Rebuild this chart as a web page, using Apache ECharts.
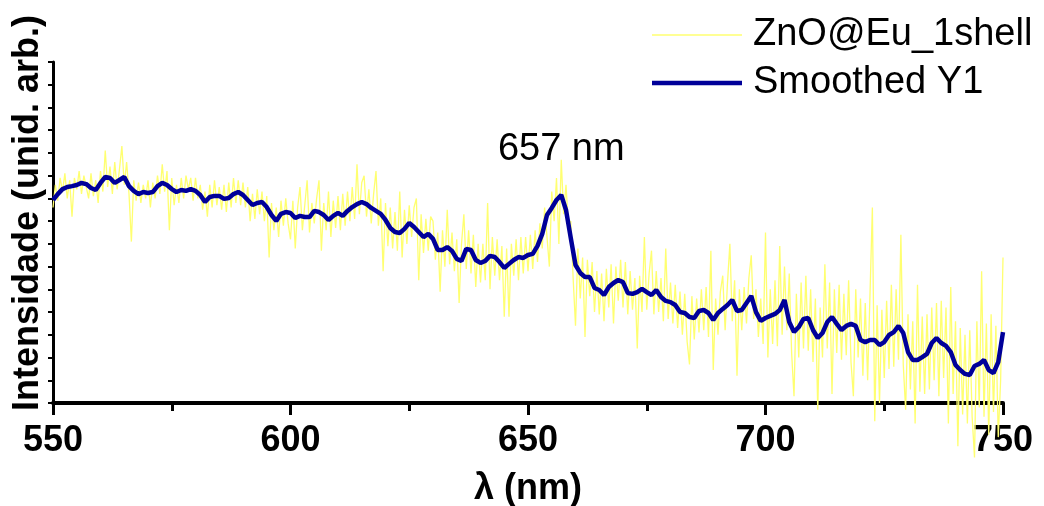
<!DOCTYPE html>
<html>
<head>
<meta charset="utf-8">
<script src="https://cdn.jsdelivr.net/npm/echarts@6/dist/echarts.min.js"></script>
<style>
  html, body { margin: 0; padding: 0; background: #ffffff; }
  #chart { width: 1044px; height: 506px; }
</style>
</head>
<body>
<div id="chart"></div>
<script>
// Emission spectrum of ZnO@Eu (one shell): raw signal and its smoothed trace.
const START_NM = 550;
const END_NM = 750;
const RAW_STEP = 0.5;      // nm between raw samples
const SMOOTH_STEP = 1;     // nm between smoothed samples
const xTickStep = 50;

const seriesNames = ['ZnO@Eu_1shell', 'Smoothed Y1'];
const seriesColors = ['#ffff70', '#000099'];
const peakNm = 657;
const peakLabel = '657 nm';

// Raw intensity (arb. units), 550 → 750 nm every 0.5 nm
const rawIntensity = [
  8.6, 9.6, 8.9, 9.9, 9.3, 10.1, 9.0, 9.8, 8.2, 9.9, 9.4, 10.2, 9.2, 10.0, 9.5, 9.0, 10.1, 9.1, 9.8, 8.8,
  10.2, 9.3, 11.1, 9.5, 10.4, 9.2, 10.6, 9.4, 10.3, 11.3, 9.6, 10.6, 9.2, 7.1, 9.8, 8.9, 9.7, 8.8, 9.6, 9.0,
  9.8, 8.6, 9.7, 9.0, 10.0, 9.2, 10.5, 9.3, 10.2, 7.6, 9.9, 8.7, 9.6, 8.8, 9.9, 9.0, 10.0, 9.4, 9.9, 8.9,
  9.9, 9.0, 9.6, 8.5, 9.3, 8.2, 9.6, 8.6, 9.8, 8.7, 9.5, 8.5, 9.6, 8.4, 9.7, 8.6, 9.9, 8.8, 9.8, 8.7,
  9.7, 8.6, 9.5, 8.0, 9.2, 8.1, 9.4, 8.3, 9.3, 8.0, 9.1, 6.4, 8.8, 7.6, 8.6, 7.3, 8.9, 7.8, 9.0, 7.9,
  7.2, 8.9, 6.8, 8.6, 9.5, 7.6, 8.7, 9.8, 7.5, 8.8, 7.9, 9.0, 9.8, 6.7, 8.8, 7.6, 9.3, 7.3, 8.9, 7.7,
  9.1, 7.6, 9.2, 7.8, 9.3, 8.0, 9.5, 8.1, 10.5, 8.3, 9.7, 10.0, 8.2, 9.4, 7.9, 9.2, 10.2, 7.8, 9.0, 5.8,
  8.8, 6.9, 8.6, 6.8, 8.4, 6.7, 9.3, 6.4, 8.5, 7.0, 8.7, 7.3, 8.6, 9.0, 5.4, 8.3, 6.6, 8.1, 6.7, 8.2,
  8.0, 6.3, 7.5, 4.9, 7.6, 6.0, 8.5, 6.1, 7.5, 5.8, 7.2, 4.4, 7.0, 8.3, 5.9, 7.6, 5.7, 7.4, 5.1, 7.0,
  5.3, 7.0, 5.4, 8.8, 5.0, 7.3, 5.6, 7.2, 5.4, 6.9, 3.8, 6.8, 3.8, 7.0, 5.6, 7.2, 5.4, 7.3, 5.7, 7.3,
  5.8, 7.4, 5.9, 7.6, 6.2, 7.9, 6.8, 8.6, 7.3, 6.0, 9.3, 8.0, 9.9, 7.0, 10.7, 8.3, 9.6, 7.8, 8.0, 5.5,
  3.4, 6.8, 4.6, 6.4, 2.9, 6.3, 4.7, 6.2, 4.0, 5.8, 3.9, 5.7, 3.6, 5.9, 4.2, 6.1, 3.5, 6.0, 4.5, 6.3,
  4.2, 6.2, 3.9, 5.8, 4.1, 5.5, 2.4, 5.6, 4.0, 7.3, 4.1, 5.7, 6.7, 3.9, 5.8, 4.0, 5.5, 3.6, 6.8, 3.7,
  5.3, 3.5, 5.2, 3.3, 4.9, 3.0, 4.8, 2.7, 1.7, 4.7, 2.8, 4.6, 3.1, 5.0, 3.2, 5.1, 2.9, 6.7, 1.45, 4.6,
  3.0, 4.9, 5.6, 3.2, 5.3, 7.0, 3.6, 5.4, 1.2, 5.0, 3.2, 5.1, 3.5, 5.5, 6.5, 3.7, 5.0, 2.9, 4.6, 2.6,
  7.5, 2.0, 5.0, 2.6, 5.4, 2.5, 6.9, 3.0, 6.0, 3.2, 5.7, 2.2, 0.3, 4.8, 2.0, 5.3, 2.4, 5.6, 2.3, 5.0,
  1.8, 4.6, -0.3, 4.2, 2.0, 6.1, 2.4, 5.3, 0.4, 5.0, 2.2, 5.2, 1.9, 4.8, 2.1, 5.4, 1.8, 0.3, 5.0, 2.0,
  4.6, 1.2, 4.4, 1.0, 4.8, 8.6, -0.8, 4.3, 0.0, 4.1, 1.1, 4.5, 1.5, 5.2, 1.6, 5.0, 1.9, 7.4, 1.7, -0.3,
  3.9, 0.6, 3.6, -0.9, 5.2, 0.5, 3.8, 0.4, 3.9, 0.6, 4.2, 1.0, 4.4, 0.3, 4.5, 1.1, 4.2, -0.9, 5.1, 0.4,
  3.6, -1.9, 3.3, -0.5, 3.0, -0.9, 3.2, -0.6, -2.4, 3.6, -0.2, 5.8, -0.6, 3.5, -1.4, 3.9, -0.4, 3.4, -1.5, 1.0,
  6.4
];

// Smoothed intensity (arb. units), 550 → 750 nm every 1 nm
const smoothIntensity = [
  8.93, 9.19, 9.41, 9.50, 9.54, 9.59, 9.68, 9.63, 9.46, 9.37,
  9.68, 9.94, 9.90, 9.68, 9.81, 9.94, 9.54, 9.33, 9.19, 9.28,
  9.24, 9.28, 9.54, 9.68, 9.59, 9.41, 9.28, 9.37, 9.33, 9.41,
  9.33, 9.15, 8.84, 9.06, 9.11, 9.11, 8.98, 9.02, 9.19, 9.28,
  9.15, 8.93, 8.71, 8.80, 8.84, 8.62, 8.27, 8.01, 8.32, 8.40,
  8.36, 8.14, 8.23, 8.18, 8.18, 8.45, 8.40, 8.27, 8.05, 8.23,
  8.36, 8.23, 8.45, 8.62, 8.75, 8.84, 8.75, 8.58, 8.45, 8.32,
  8.05, 7.70, 7.52, 7.48, 7.66, 7.92, 7.74, 7.52, 7.30, 7.44,
  7.22, 6.73, 6.73, 6.86, 6.69, 6.34, 6.25, 6.78, 6.73, 6.29,
  6.16, 6.25, 6.47, 6.42, 6.20, 5.94, 6.12, 6.29, 6.42, 6.38,
  6.51, 6.56, 6.91, 7.44, 8.27, 8.58, 8.93, 9.15, 8.49, 7.26,
  6.07, 5.72, 5.54, 5.54, 5.06, 4.97, 4.75, 5.10, 5.28, 5.41,
  5.32, 4.84, 4.80, 4.88, 5.02, 4.88, 4.75, 4.97, 4.66, 4.49,
  4.44, 4.31, 4.00, 3.96, 3.78, 3.74, 4.05, 4.09, 3.96, 3.65,
  3.96, 4.14, 4.31, 4.53, 4.05, 4.09, 4.40, 4.71, 4.00, 3.61,
  3.74, 3.83, 3.92, 4.09, 4.53, 3.56, 3.12, 3.34, 3.70, 3.74,
  3.21, 2.86, 3.08, 3.56, 3.78, 3.48, 3.21, 3.39, 3.48, 3.39,
  2.77, 2.68, 2.77, 2.77, 2.55, 2.68, 2.99, 3.12, 3.39, 3.08,
  2.24, 1.89, 1.89, 2.02, 2.16, 2.64, 2.86, 2.64, 2.51, 2.24,
  1.67, 1.45, 1.28, 1.23, 1.63, 1.72, 1.89, 1.45, 1.32, 1.80, 3.12
];

const FONT = '"Liberation Sans", Arial, Helvetica, sans-serif';
const RAW_WIDTH = 1.3;
const SMOOTH_WIDTH = 4.5;

const rawPairs = rawIntensity.map((v, i) => [START_NM + i * RAW_STEP, v]);
const smoothPairs = smoothIntensity.map((v, i) => [START_NM + i * SMOOTH_STEP, v]);
const peakValue = smoothIntensity[(peakNm - START_NM) / SMOOTH_STEP];

// Legend key: a short line sample followed by the series name
function legendRow(name, color, width, y) {
  return [
    {
      type: 'line',
      shape: { x1: 652, y1: y, x2: 742, y2: y },
      style: { stroke: color, lineWidth: width }
    },
    {
      type: 'text',
      x: 753,
      y: y,
      style: {
        text: name,
        font: '38px ' + FONT,
        fill: '#000000',
        textVerticalAlign: 'middle',
        verticalAlign: 'middle'
      }
    }
  ];
}

const chart = echarts.init(document.getElementById('chart'), null, { renderer: 'canvas' });

chart.setOption({
  animation: false,
  backgroundColor: '#ffffff',
  grid: {
    left: 53, right: 41, top: 62, bottom: 103,
    containLabel: false,
    outerBoundsMode: 'none'
  },
  xAxis: {
    type: 'value',
    min: START_NM,
    max: END_NM,
    interval: xTickStep,
    axisLine: { show: true, onZero: false, lineStyle: { color: '#000000', width: 4 } },
    axisTick: { show: true, inside: false, length: 12, lineStyle: { color: '#000000', width: 3 } },
    minorTick: { show: true, splitNumber: 2, length: 8, lineStyle: { color: '#000000', width: 3 } },
    splitLine: { show: false },
    minorSplitLine: { show: false },
    axisLabel: {
      fontFamily: FONT, fontSize: 36, fontWeight: 'bold', color: '#000000', margin: 20
    },
    name: 'λ (nm)',
    nameLocation: 'middle',
    nameGap: 68,
    nameTextStyle: { fontFamily: FONT, fontSize: 36, fontWeight: 'bold', color: '#000000' }
  },
  yAxis: {
    type: 'value',
    min: 0,
    max: 15,
    interval: 1,
    axisLine: { show: true, onZero: false, lineStyle: { color: '#000000', width: 3 } },
    axisTick: { show: true, inside: false, length: 5, lineStyle: { color: '#000000', width: 2 } },
    axisLabel: { show: false },
    splitLine: { show: false }
  },
  graphic: [
    {
      type: 'text',
      left: 10,
      top: 15,
      rotation: Math.PI / 2,
      style: {
        text: 'Intensidade (unid. arb.)',
        font: 'bold 36px ' + FONT,
        fill: '#000000'
      }
    },
    ...legendRow(seriesNames[0], seriesColors[0], 1.5, 35),
    ...legendRow(seriesNames[1], seriesColors[1], SMOOTH_WIDTH, 83)
  ],
  series: [
    {
      name: seriesNames[0],
      type: 'line',
      data: rawPairs,
      symbol: 'none',
      clip: false,
      z: 2,
      lineStyle: { color: seriesColors[0], width: RAW_WIDTH },
      itemStyle: { color: seriesColors[0] }
    },
    {
      name: seriesNames[1],
      type: 'line',
      data: smoothPairs,
      symbol: 'none',
      z: 3,
      lineStyle: { color: seriesColors[1], width: SMOOTH_WIDTH },
      itemStyle: { color: seriesColors[1] },
      markPoint: {
        symbol: 'circle',
        symbolSize: 1,
        itemStyle: { color: 'rgba(0,0,0,0)' },
        label: {
          show: true,
          position: 'inside',
          offset: [0, -45],
          formatter: peakLabel,
          fontFamily: FONT,
          fontSize: 38,
          color: '#000000'
        },
        data: [{ coord: [peakNm, peakValue] }]
      }
    }
  ]
});
</script>
</body>
</html>
